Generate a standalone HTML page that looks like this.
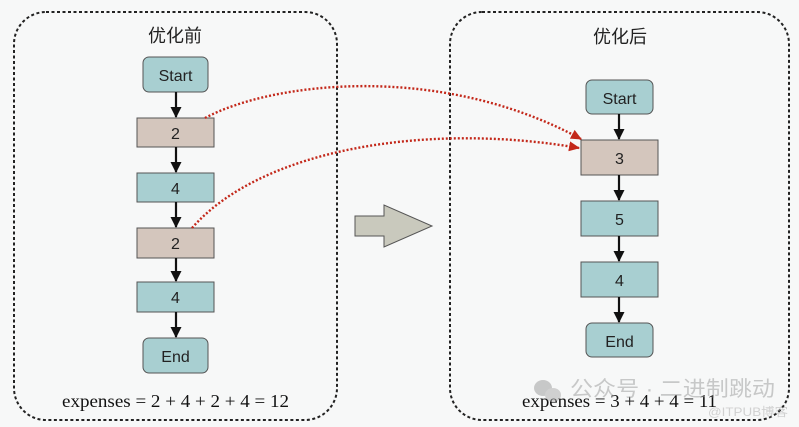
<!DOCTYPE html>
<html><head><meta charset="utf-8"><style>
html,body{margin:0;padding:0;background:#f7f8f8;}
svg{display:block;}
</style></head><body>
<svg width="799" height="427" viewBox="0 0 799 427" xmlns="http://www.w3.org/2000/svg">
<defs>
<marker id="ab" markerWidth="12" markerHeight="12" refX="10" refY="5.5" orient="auto" markerUnits="userSpaceOnUse">
<path d="M0,0 L11,5.5 L0,11 z" fill="#111"/>
</marker>
<marker id="ar" markerWidth="12" markerHeight="12" refX="10" refY="6" orient="auto" markerUnits="userSpaceOnUse">
<path d="M0,1 L11,6 L0,11 z" fill="#c3281a"/>
</marker>
</defs>
<rect width="799" height="427" fill="#f7f8f8"/>
<!-- containers -->
<rect x="14" y="12" width="323" height="408" rx="32" fill="none" stroke="#222" stroke-width="2" stroke-dasharray="3 2.5"/>
<rect x="450" y="12" width="339" height="408" rx="32" fill="none" stroke="#222" stroke-width="2" stroke-dasharray="3 2.5"/>
<g font-family="'Liberation Sans','Noto Sans CJK SC',sans-serif" font-size="18" fill="#222" text-anchor="middle">
<text x="175" y="42">优化前</text>
<text x="620" y="43">优化后</text>
</g>
<!-- left flow -->
<g stroke="#555" stroke-width="1">
<rect x="143" y="57" width="65" height="35" rx="6" fill="#a8cfd1"/>
<rect x="137" y="118" width="77" height="29" fill="#d4c6bd"/>
<rect x="137" y="173" width="77" height="29" fill="#a8cfd1"/>
<rect x="137" y="228" width="77" height="30" fill="#d4c6bd"/>
<rect x="137" y="282" width="77" height="30" fill="#a8cfd1"/>
<rect x="143" y="338" width="65" height="35" rx="6" fill="#a8cfd1"/>
</g>
<g stroke="#111" stroke-width="2.2">
<line x1="176" y1="92" x2="176" y2="117" marker-end="url(#ab)"/>
<line x1="176" y1="147" x2="176" y2="172" marker-end="url(#ab)"/>
<line x1="176" y1="202" x2="176" y2="227" marker-end="url(#ab)"/>
<line x1="176" y1="258" x2="176" y2="281" marker-end="url(#ab)"/>
<line x1="176" y1="312" x2="176" y2="337" marker-end="url(#ab)"/>
</g>
<g font-family="'Liberation Sans',sans-serif" font-size="16" fill="#222" text-anchor="middle">
<text x="175.5" y="81">Start</text>
<text x="175.5" y="139">2</text>
<text x="175.5" y="194">4</text>
<text x="175.5" y="249">2</text>
<text x="175.5" y="303">4</text>
<text x="175.5" y="362">End</text>
</g>
<!-- right flow -->
<g stroke="#555" stroke-width="1">
<rect x="586" y="80" width="67" height="34" rx="6" fill="#a8cfd1"/>
<rect x="581" y="140" width="77" height="35" fill="#d4c6bd"/>
<rect x="581" y="201" width="77" height="35" fill="#a8cfd1"/>
<rect x="581" y="262" width="77" height="35" fill="#a8cfd1"/>
<rect x="586" y="323" width="67" height="34" rx="6" fill="#a8cfd1"/>
</g>
<g stroke="#111" stroke-width="2.2">
<line x1="619" y1="114" x2="619" y2="139" marker-end="url(#ab)"/>
<line x1="619" y1="175" x2="619" y2="200" marker-end="url(#ab)"/>
<line x1="619" y1="236" x2="619" y2="261" marker-end="url(#ab)"/>
<line x1="619" y1="297" x2="619" y2="322" marker-end="url(#ab)"/>
</g>
<g font-family="'Liberation Sans',sans-serif" font-size="16" fill="#222" text-anchor="middle">
<text x="619.5" y="104">Start</text>
<text x="619.5" y="164">3</text>
<text x="619.5" y="225">5</text>
<text x="619.5" y="286">4</text>
<text x="619.5" y="347">End</text>
</g>
<!-- big arrow -->
<path d="M355,216 L384,216 L384,205 L432,226 L384,247 L384,236 L355,236 Z" fill="#c9c9bd" stroke="#555" stroke-width="1"/>
<!-- red dotted curves -->
<g fill="none" stroke="#c3281a" stroke-width="2.4" stroke-dasharray="2 2">
<path d="M205,118 C272,82 440,62 581,139" marker-end="url(#ar)"/>
<path d="M192,228 C262,148 430,122 579,148" marker-end="url(#ar)"/>
</g>
<!-- expenses -->
<g font-family="'Liberation Serif',serif" font-size="18" fill="#111">
<text x="62" y="407" textLength="227" lengthAdjust="spacingAndGlyphs">expenses = 2 + 4 + 2 + 4 = 12</text>
<text x="522" y="407" textLength="195" lengthAdjust="spacingAndGlyphs">expenses = 3 + 4 + 4 = 11</text>
</g>
<!-- watermark -->
<g opacity="0.5">
<ellipse cx="543" cy="388" rx="9" ry="8" fill="#999"/>
<ellipse cx="553" cy="395" rx="8" ry="7" fill="#aaa"/>
<text x="570" y="396" font-family="'Liberation Sans','Noto Sans CJK SC',sans-serif" font-size="21" fill="#999" textLength="205" lengthAdjust="spacingAndGlyphs">公众号 · 二进制跳动</text>
<text x="708" y="416" font-family="'Liberation Sans','Noto Sans CJK SC',sans-serif" font-size="12" fill="#aaa" textLength="80" lengthAdjust="spacingAndGlyphs">@ITPUB博客</text>
</g>
</svg>
</body></html>
